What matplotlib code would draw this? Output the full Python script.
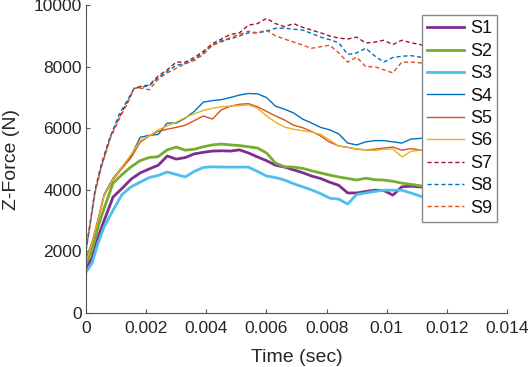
import matplotlib
matplotlib.use('Agg')
import matplotlib.pyplot as plt

plt.rcParams['font.family'] = ['Liberation Sans', 'DejaVu Sans']

# time grid for solid curves (sec)
t_solid = [0, 0.0002, 0.0004, 0.0006, 0.0009, 0.0012, 0.0015, 0.0018, 0.0021, 0.0024,
           0.0027, 0.003, 0.0033, 0.0036, 0.0039, 0.0042, 0.0045, 0.0048, 0.0051, 0.0054,
           0.0057, 0.006, 0.0063, 0.0066, 0.0069, 0.0072, 0.0075, 0.0078, 0.0081, 0.0084,
           0.0087, 0.009, 0.0093, 0.0096, 0.0099, 0.0102, 0.0105, 0.0108, 0.0112]

s1 = [1460, 1790, 2470, 3000, 3770, 4050, 4350, 4550, 4680, 4800,
      5100, 5000, 5050, 5170, 5220, 5260, 5270, 5260, 5300, 5200,
      5070, 4950, 4800, 4740, 4650, 4560, 4450, 4370, 4250, 4150,
      3900, 3900, 3950, 3990, 3980, 3830, 4100, 4120, 4090]
s2 = [1600, 2050, 2800, 3400, 4220, 4500, 4750, 4950, 5050, 5080,
      5300, 5390, 5290, 5320, 5400, 5460, 5490, 5460, 5440, 5400,
      5360, 5200, 4870, 4750, 4740, 4700, 4620, 4550, 4480, 4420,
      4370, 4320, 4380, 4330, 4320, 4280, 4220, 4180, 4120]
s3 = [1330, 1620, 2270, 2800, 3340, 3850, 4100, 4250, 4400, 4470,
      4580, 4500, 4420, 4600, 4730, 4750, 4740, 4740, 4740, 4740,
      4600, 4450, 4400, 4320, 4200, 4100, 4000, 3880, 3730, 3700,
      3540, 3850, 3900, 3950, 3990, 3990, 3990, 3900, 3770]
s4 = [1750, 2300, 3050, 3850, 4380, 4750, 5100, 5710, 5770, 5800,
      6170, 6170, 6330, 6550, 6850, 6900, 6930, 7000, 7080, 7130,
      7120, 7000, 6720, 6620, 6500, 6300, 6170, 6030, 5950, 5820,
      5520, 5460, 5560, 5600, 5600, 5560, 5520, 5650, 5680]
s5 = [1700, 2250, 3000, 3800, 4330, 4700, 5050, 5550, 5750, 5900,
      5970, 6030, 6100, 6250, 6400, 6300, 6600, 6720, 6780, 6800,
      6700, 6550, 6400, 6270, 6100, 6020, 5900, 5750, 5550, 5430,
      5380, 5320, 5300, 5320, 5360, 5390, 5290, 5340, 5280]
s6 = [1650, 2270, 3020, 3820, 4350, 4750, 5150, 5600, 5750, 5950,
      6080, 6200, 6350, 6470, 6580, 6650, 6700, 6720, 6740, 6760,
      6650, 6400, 6200, 6040, 5970, 5920, 5880, 5800, 5620, 5420,
      5380, 5330, 5300, 5280, 5320, 5330, 5070, 5250, 5300]

# time grid for dashed curves (sec)
t_dash = [0, 0.0001, 0.0003, 0.0005, 0.0008, 0.0011, 0.0014, 0.0016, 0.0019, 0.0021,
          0.0024, 0.0027, 0.003, 0.0033, 0.0036, 0.0039, 0.0042, 0.0045, 0.0048, 0.0051,
          0.0054, 0.0057, 0.006, 0.0063, 0.0066, 0.0069, 0.0072, 0.0075, 0.0078, 0.0081,
          0.0084, 0.0087, 0.009, 0.0093, 0.0096, 0.0099, 0.0102, 0.0105, 0.0108, 0.0112]

s7 = [2050, 2700, 4000, 4800, 5720, 6350, 6900, 7300, 7380, 7400,
      7700, 7900, 8150, 8150, 8300, 8500, 8750, 8900, 9050, 9100,
      9350, 9400, 9570, 9400, 9300, 9400, 9280, 9190, 9100, 9000,
      8930, 8900, 8960, 8770, 8800, 8860, 8720, 8860, 8780, 8700]
s8 = [2000, 2650, 3950, 4750, 5700, 6450, 6950, 7300, 7350, 7380,
      7650, 7850, 8050, 8100, 8250, 8450, 8700, 8850, 8900, 9000,
      9100, 9100, 9150, 9250, 9250, 9220, 9190, 9080, 8960, 8880,
      8780, 8400, 8450, 8600, 8350, 8150, 8300, 8340, 8360, 8300]
s9 = [2100, 2650, 3900, 4700, 5650, 6300, 6850, 7300, 7300, 7250,
      7600, 7800, 7950, 8100, 8200, 8400, 8700, 8800, 8950, 9050,
      9150, 9100, 9190, 9000, 8900, 8800, 8700, 8600, 8650, 8700,
      8450, 8150, 8310, 8000, 8000, 7900, 7800, 8150, 8150, 8120]

fig = plt.figure(figsize=(5.31, 3.67), dpi=100)
ax = fig.add_axes([0.162, 0.147, 0.793, 0.839])

ax.plot(t_solid, s1, '-', color='#7E2F8E', lw=2, label='S1')
ax.plot(t_solid, s2, '-', color='#77AC30', lw=2, label='S2')
ax.plot(t_solid, s3, '-', color='#4DBEEE', lw=2, label='S3')
ax.plot(t_solid, s4, '-', color='#0072BD', lw=1, label='S4')
ax.plot(t_solid, s5, '-', color='#D95319', lw=1, label='S5')
ax.plot(t_solid, s6, '-', color='#EDB120', lw=1, label='S6')
ax.plot(t_dash, s7, color='#A2142F', lw=1, ls=(0, (3, 2)), label='S7')
ax.plot(t_dash, s8, color='#0072BD', lw=1, ls=(0, (3, 2)), label='S8')
ax.plot(t_dash, s9, color='#D95319', lw=1, ls=(0, (3, 2)), label='S9')

ax.set_xlim(0, 0.014)
ax.set_ylim(0, 10000)
ax.set_xticks([0, 0.002, 0.004, 0.006, 0.008, 0.01, 0.012, 0.014])
ax.set_xticklabels(['0', '0.002', '0.004', '0.006', '0.008', '0.01', '0.012', '0.014'])
ax.set_yticks([0, 2000, 4000, 6000, 8000, 10000])

ax.spines['top'].set_visible(False)
ax.spines['right'].set_visible(False)
for s in ['left', 'bottom']:
    ax.spines[s].set_color('#555555')
    ax.spines[s].set_linewidth(0.8)
ax.tick_params(direction='in', length=3, width=0.8, color='#555555',
               labelsize=12.5, labelcolor='#262626')
ax.tick_params(axis='x', pad=6)
ax.tick_params(axis='y', pad=3)

ax.set_xlabel('Time (sec)', size=14, color='#262626', labelpad=9)
ax.set_ylabel('Z-Force (N)', size=14, color='#262626', labelpad=10)

leg = ax.legend(loc='upper left', bbox_to_anchor=(422 / 531, 1 - 15 / 367),
                bbox_transform=fig.transFigure, fontsize=13, handlelength=2.0,
                labelspacing=0.3, handletextpad=0.35, borderpad=0.3,
                borderaxespad=0, fancybox=False, framealpha=1, edgecolor='#888888')
for txt in leg.get_texts():
    txt.set_color('#111111')

fig.savefig('out.png', dpi=100)
